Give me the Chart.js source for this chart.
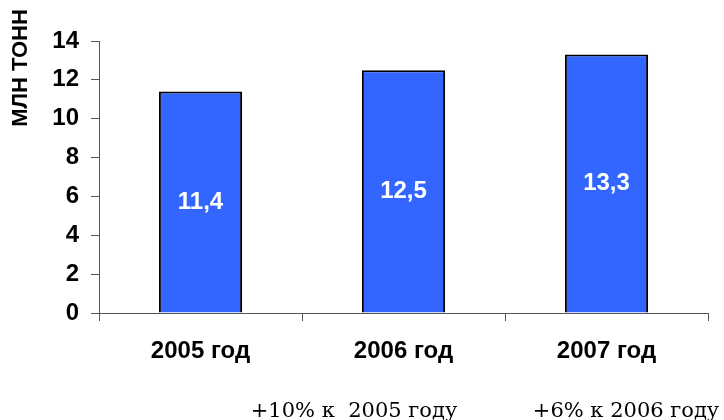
<!DOCTYPE html>
<html>
<head>
<meta charset="utf-8">
<script src="https://cdn.jsdelivr.net/npm/chart.js@4/dist/chart.umd.min.js"></script>
<style>
  html, body { margin: 0; padding: 0; background: #fff; }
  #wrap { width: 724px; height: 420px; position: relative; }
</style>
</head>
<body>
<div id="wrap"><canvas id="c" width="724" height="420"></canvas></div>
<script>
const categories = ["2005 год", "2006 год", "2007 год"];
const values = [11.4, 12.5, 13.3];
const valueLabels = ["11,4", "12,5", "13,3"];
const yTicks = [0, 2, 4, 6, 8, 10, 12, 14];
const axisTitle = "МЛН ТОНН";
const notes = ["+10% к  2005 году", "+6% к 2006 году"];

const SANS = "'Liberation Sans', Arial, sans-serif";

const labelsPlugin = {
  id: 'extras',
  afterDatasetsDraw(chart) {
    const ctx = chart.ctx;
    const meta = chart.getDatasetMeta(0);
    ctx.save();
    ctx.fillStyle = '#ffffff';
    ctx.font = 'bold 24px ' + SANS;
    ctx.textAlign = 'center';
    ctx.textBaseline = 'middle';
    meta.data.forEach((bar, i) => {
      const yMid = (bar.y + bar.base) / 2;
      ctx.fillText(valueLabels[i], bar.x, yMid);
    });
    ctx.restore();

    // axis title
    ctx.save();
    ctx.translate(21, 68);
    ctx.rotate(-Math.PI / 2);
    ctx.fillStyle = '#000';
    ctx.font = 'bold 22px ' + SANS;
    ctx.textAlign = 'center';
    ctx.textBaseline = 'middle';
    ctx.fillText(axisTitle, 0, 0);
    ctx.restore();

    // notes
    ctx.save();
    ctx.fillStyle = '#000';
    ctx.font = '21px "DejaVu Serif", serif';
    ctx.textAlign = 'center';
    ctx.textBaseline = 'alphabetic';
    ctx.fillText(notes[0], 354, 417);
    ctx.fillText(notes[1], 626, 417);
    ctx.restore();
  }
};

new Chart(document.getElementById('c'), {
  type: 'bar',
  data: {
    labels: categories,
    datasets: [{
      data: values,
      backgroundColor: '#3366FF',
      borderColor: '#000000',
      borderWidth: 2,
      barPercentage: 0.41,
      categoryPercentage: 1.0
    }]
  },
  options: {
    responsive: false,
    animation: false,
    devicePixelRatio: 1,
    layout: { padding: { left: 0, right: 16, top: 41, bottom: 0 } },
    plugins: { legend: { display: false }, tooltip: { enabled: false } },
    scales: {
      x: {
        grid: { offset: true, drawOnChartArea: false, drawTicks: true, tickLength: 8, color: '#555' },
        border: { display: true, color: '#555', width: 1 },
        ticks: { color: '#000', font: { family: SANS, size: 24, weight: 'bold' }, padding: 16, maxRotation: 0 },
        afterFit(scale) { scale.height = 107; }
      },
      y: {
        min: 0, max: 14,
        afterBuildTicks(scale) { scale.ticks = yTicks.map(v => ({ value: v })); },
        grid: { drawOnChartArea: false, drawTicks: true, tickLength: 8, color: '#555' },
        border: { display: true, color: '#555', width: 1 },
        ticks: { color: '#000', font: { family: SANS, size: 24, weight: 'bold' }, padding: 12 },
        afterFit(scale) { scale.width = 99; }
      }
    }
  },
  plugins: [labelsPlugin]
});
</script>
</body>
</html>
